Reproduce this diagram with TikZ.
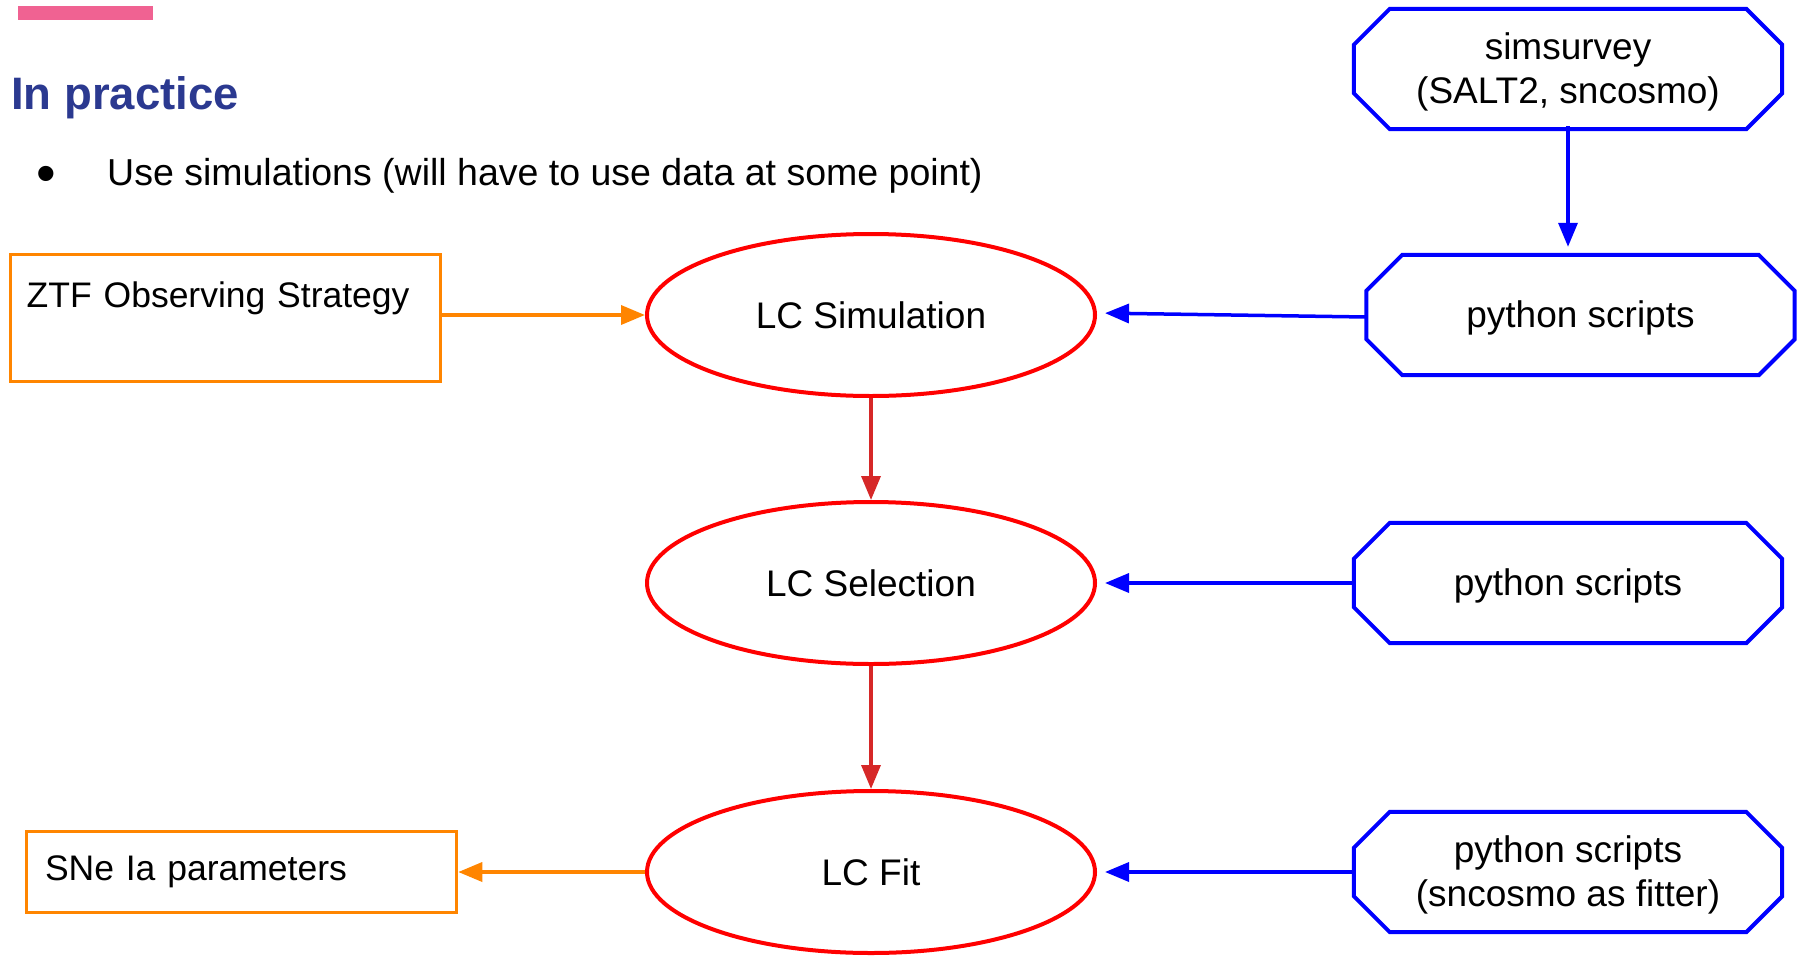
\documentclass[tikz,border=0pt]{standalone}
\usepackage{fontspec}
\setmainfont{Liberation Sans}
\usetikzlibrary{arrows.meta,shapes.geometric}

\definecolor{barpink}{RGB}{240,98,146}
\definecolor{titleblue}{RGB}{43,57,144}
\definecolor{ioorange}{RGB}{255,133,0}
\definecolor{stagered}{RGB}{255,0,0}
\definecolor{flowred}{RGB}{214,40,40}
\definecolor{toolblue}{RGB}{0,0,255}

\begin{document}
\begin{tikzpicture}[x=1pt,y=-1pt]

\tikzset{txt/.style = {font=\fontsize{37}{44}\selectfont}}
\tikzset{stage/.style = {shape=ellipse,draw=stagered,line width=4pt,minimum width=448pt,minimum height=162pt,inner sep=0pt,txt}}
\tikzset{tool/.style = {shape=rectangle,minimum width=428pt,minimum height=120pt,inner sep=0pt,align=center,txt}}
\tikzset{iobox/.style = {shape=rectangle,draw=ioorange,line width=3.5pt,align=left,inner ysep=0pt,font=\fontsize{35.5}{42}\selectfont}}
\tikzset{octagon/.style = {draw=toolblue,line width=4pt,line join=miter}}
\tikzset{edge/.style = {-{Triangle[length=24pt,width=19pt]},line width=3.5pt}}

\useasboundingbox (0,0) rectangle (1806,956);

% header
\fill[barpink] (18,6) rectangle (153,20);
\node[anchor=base west,inner sep=0pt,text=titleblue,font=\fontsize{45.5}{52}\selectfont\bfseries] (title) at (11,109) {In practice};
\node[anchor=base,inner sep=0pt,font=\fontsize{56}{60}\selectfont] (bul) at (46,192) {\textbullet};
\node[anchor=base west,inner sep=0pt,font=\fontsize{37.5}{44}\selectfont] (point) at (107,185) {Use simulations (will have to use data at some point)};

% vertices
\node[iobox,anchor=north west,inner xsep=16.5pt,text width=397pt,text height=53.5pt,text depth=73.5pt] (ztf) at (8.5,252.5) {ZTF Observing Strategy};
\node[iobox,inner xsep=18.5pt,text width=393pt,minimum height=81pt] (snia) at (241.5,872) {SNe Ia parameters};

\node[stage] (sim) at (871,315) {LC Simulation};
\node[stage] (sel) at (871,583) {LC Selection};
\node[stage] (fit) at (871,872) {LC Fit};

\node[tool] (simsurvey) at (1568,72) {simsurvey\\(SALT2, sncosmo)};
\node[tool] (pysim) at (1580.5,318) {python scripts};
\node[tool] (pysel) at (1568,586) {python scripts};
\node[tool] (pyfit) at (1568,875) {python scripts\\(sncosmo as fitter)};

\foreach \n in {simsurvey,pysim,pysel,pyfit}
  \draw[octagon] ([shift={(36pt,3pt)}]\n.north west) -- ([shift={(-36pt,3pt)}]\n.north east)
    -- ([yshift=-33pt]\n.north east) -- ([yshift=39pt]\n.south east)
    -- ([shift={(-36pt,3pt)}]\n.south east) -- ([shift={(36pt,3pt)}]\n.south west)
    -- ([yshift=39pt]\n.south west) -- ([yshift=-33pt]\n.north west) -- cycle;

%edges
\draw[edge,ioorange] (ztf.east |- sim.west) -- (sim.west);
\draw[edge,flowred] (sim) -- (sel);
\draw[edge,flowred] (sel) -- (fit);
\draw[edge,ioorange] (fit.west) -- (snia.east);

\draw[edge,toolblue,shorten <=-3pt,shorten >=8pt] ([yshift=3pt]simsurvey.south) -- ([yshift=3pt]simsurvey.south |- pysim.north);
\draw[edge,toolblue,shorten >=8pt] ([yshift=1pt]pysim.west) -- ([yshift=2pt]sim.east);
\draw[edge,toolblue,shorten >=8pt] ([yshift=3pt]pysel.west) -- (sel.east);
\draw[edge,toolblue,shorten >=8pt] ([yshift=3pt]pyfit.west) -- (fit.east);
\end{tikzpicture}
\end{document}
